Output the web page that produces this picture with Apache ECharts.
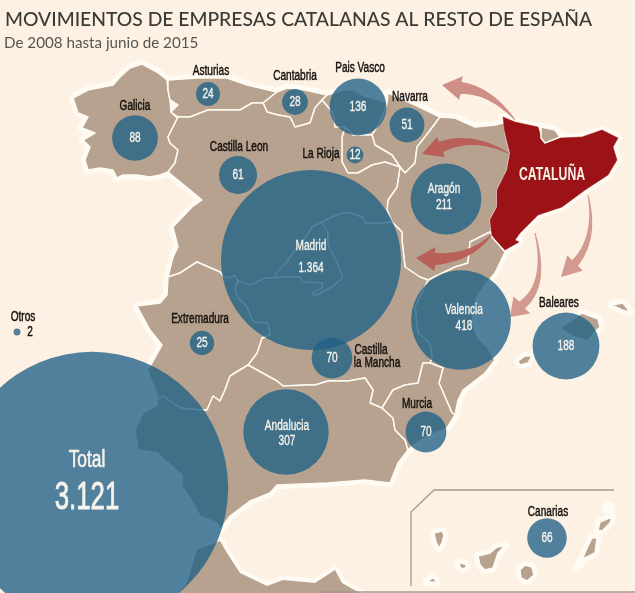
<!DOCTYPE html>
<html>
<head>
<meta charset="utf-8">
<title>Movimientos de empresas catalanas</title>
<style>
  html, body { margin: 0; padding: 0; background: #fdf1e4; }
  #chart { width: 635px; height: 593px; }
</style>
<script src="https://cdn.jsdelivr.net/npm/echarts@6/dist/echarts.min.js"></script>
</head>
<body>
<div id="chart"></div>
<script>
// Datos
const regionNames = ['Asturias', 'Cantabria', 'Pais Vasco', 'Galicia', 'Navarra', 'Castilla Leon', 'La Rioja', 'Aragón', 'Madrid', 'Valencia', 'Baleares', 'Extremadura', 'Castilla la Mancha', 'Andalucia', 'Murcia', 'Canarias', 'Otros', 'Total'];
const regionValues = [24, 28, 136, 88, 51, 61, 12, 211, 1364, 418, 188, 25, 70, 307, 70, 66, 2, 3121];

// Posicion de cada burbuja en unidades del mapa (x, y hacia abajo)
const bubbleCenters = [[208, 94], [295, 102], [358, 107], [135, 138], [407, 125], [238, 175], [355, 155], [446, 199], [311, 260], [461, 320], [566, 346], [202, 343], [332, 358], [286, 432], [426, 432], [547, 538], [17, 332], [92, 488]];
// Rotulos exteriores (negros)
const outsideLabels = ['Asturias', 'Cantabria', 'Pais Vasco', 'Galicia', 'Navarra', 'Castilla Leon', 'La Rioja', 'Baleares', 'Extremadura', 'Murcia', 'Canarias', 'Otros', '2', 'Castilla', 'la Mancha'];
const outsideAnchors = [[211, 71], [295, 76], [360, 68], [135, 106], [410, 97], [239, 147], [321, 154], [559, 303], [200, 319], [417, 404], [548, 512], [23, 317], [30, 332], [371, 350], [377, 363]];
// Rotulos blancos con nombre y cifra dentro de la burbuja
const insideAnchors = {
  'Madrid': [[311, 246], [311, 268]],
  'Aragón': [[444, 189], [444, 205]],
  'Valencia': [[464, 310], [464, 326]],
  'Andalucia': [[287, 426], [287, 441]]
};

// Contornos de las comunidades en unidades del mapa
const regionShapes = {
  'Galicia': [[120,77],[130,68],[142,64],[157,72],[167,80],[168,90],[170,100],[171,112],[176,117],[178,117],[168,137],[170,143],[178,150],[175,163],[168,172],[160,175],[150,177],[137,175],[123,175],[117,178],[113,170],[100,168],[88,170],[85,160],[90,147],[83,140],[95,133],[82,128],[88,117],[78,113],[73,98],[88,90],[113,85]],
  'Asturias': [[168,80],[197,78],[227,78],[247,85],[277,92],[263,103],[252,103],[240,110],[227,110],[208,110],[190,117],[178,117],[171,112],[178,105],[170,100],[168,90]],
  'Cantabria': [[277,92],[287,88],[305,90],[327,95],[322,100],[315,108],[310,123],[295,127],[290,117],[278,115],[267,112],[263,103]],
  'Pais Vasco': [[327,95],[343,90],[353,90],[367,97],[380,100],[387,103],[382,118],[372,135],[353,135],[345,127],[335,127],[333,113],[322,100]],
  'Navarra': [[387,103],[388,93],[415,105],[440,117],[428,133],[417,147],[415,163],[405,173],[400,167],[392,155],[375,145],[372,135],[382,118]],
  'La Rioja': [[342,137],[345,127],[353,135],[372,135],[375,145],[392,155],[400,167],[385,162],[372,165],[358,173],[348,173],[342,162],[342,147]],
  'Aragón': [[440,117],[455,118],[475,127],[495,125],[507,122],[505,133],[510,153],[507,170],[497,190],[497,207],[490,220],[492,237],[490,232],[470,242],[468,263],[455,267],[428,280],[420,277],[405,267],[402,240],[402,232],[392,222],[387,210],[388,200],[397,187],[400,167],[405,173],[415,163],[417,147],[428,133]],
  'Cataluña': [[503,117],[515,122],[538,127],[542,140],[545,143],[560,138],[582,137],[602,130],[618,138],[613,147],[617,160],[608,175],[585,190],[562,207],[538,215],[520,233],[515,240],[519,242],[505,250],[492,237],[490,220],[497,207],[497,190],[507,170],[510,153],[505,133]],
  'Andorra': [[541,127],[555,130],[560,137],[545,143],[541,138]],
  'Valencia': [[470,242],[490,232],[492,237],[505,252],[495,273],[485,285],[477,297],[472,312],[473,325],[478,338],[488,348],[495,360],[485,373],[463,390],[458,400],[455,415],[452,413],[439,383],[443,368],[430,363],[432,357],[430,343],[418,333],[415,307],[428,280],[455,267],[468,263]],
  'Castilla Leon': [[178,117],[190,117],[208,110],[227,110],[240,110],[252,103],[263,103],[267,112],[278,115],[290,117],[295,127],[310,123],[315,108],[322,100],[333,113],[335,127],[345,127],[342,137],[342,147],[342,162],[348,173],[358,173],[372,165],[385,162],[400,167],[397,187],[388,200],[387,210],[392,222],[382,223],[365,223],[362,217],[350,213],[342,213],[332,217],[322,222],[312,227],[305,238],[295,250],[287,262],[277,272],[275,278],[265,278],[257,282],[250,285],[238,281],[235,276],[225,278],[220,272],[197,262],[180,273],[168,277],[173,257],[178,247],[173,227],[192,207],[202,200],[190,190],[168,172],[175,163],[178,150],[170,143],[168,137]],
  'Madrid': [[322,222],[328,233],[328,245],[337,262],[343,278],[330,288],[315,296],[312,293],[322,288],[322,283],[302,282],[300,277],[287,277],[275,278],[277,272],[287,262],[295,250],[305,238],[312,227]],
  'Castilla la Mancha': [[322,222],[332,217],[342,213],[350,213],[362,217],[365,223],[382,223],[392,222],[402,232],[402,240],[405,267],[420,277],[428,280],[415,307],[418,333],[430,343],[432,357],[430,363],[423,363],[418,383],[405,385],[393,390],[382,408],[370,403],[373,390],[365,378],[348,381],[335,381],[328,381],[315,385],[307,385],[283,386],[277,381],[248,365],[257,353],[262,338],[270,335],[268,323],[253,322],[247,307],[238,298],[235,288],[238,281],[250,285],[257,282],[265,278],[275,278],[287,277],[300,277],[302,282],[322,283],[322,288],[312,293],[315,296],[330,288],[343,278],[337,262],[328,245],[328,233]],
  'Extremadura': [[168,277],[180,273],[197,262],[220,272],[225,278],[235,276],[238,281],[235,288],[238,298],[247,307],[253,322],[268,323],[270,335],[262,338],[257,353],[248,365],[230,376],[225,390],[220,401],[213,396],[207,410],[203,410],[180,408],[163,396],[157,400],[157,393],[147,370],[152,363],[162,345],[150,330],[137,306],[160,303],[167,295]],
  'Andalucia': [[248,365],[277,381],[283,386],[307,385],[315,385],[328,381],[348,381],[365,378],[373,390],[370,403],[382,408],[393,418],[395,430],[405,440],[408,450],[398,463],[390,483],[365,480],[327,483],[277,485],[270,493],[250,501],[230,516],[220,530],[217,523],[200,516],[193,503],[182,486],[182,475],[157,453],[138,450],[135,430],[143,413],[157,405],[157,400],[163,396],[180,408],[203,410],[207,410],[213,396],[220,401],[225,390],[230,376]],
  'Murcia': [[382,408],[393,390],[405,385],[418,383],[423,363],[430,363],[443,368],[439,383],[452,413],[455,415],[447,428],[428,436],[412,446],[408,450],[405,440],[395,430],[393,418]],
  'Mallorca': [[560,328],[575,318],[582,313],[590,316],[598,319],[600,327],[594,333],[587,341],[572,336]],
  'Menorca': [[612,305],[623,303],[630,312],[622,310]],
  'Ibiza': [[518,361],[525,356],[532,356],[528,363],[520,365]],
  'La Palma': [[434,533],[442,531],[444,535],[442,543],[439,548],[436,542]],
  'Tenerife': [[478,556],[490,553],[497,547],[505,546],[498,553],[493,568],[485,570],[480,565]],
  'La Gomera': [[459,563],[465,564],[467,567],[463,569],[460,567]],
  'El Hierro': [[427,582],[434,577],[436,583],[432,582]],
  'Gran Canaria': [[520,570],[525,565],[532,567],[534,575],[527,581],[521,578]],
  'Fuerteventura': [[592,538],[597,538],[595,553],[585,558],[577,567],[583,558],[587,548]],
  'Lanzarote': [[600,522],[612,517],[610,523],[602,531],[598,530]],
  'Alegranza': [[607,506],[611,506],[611,510],[607,510]],
  'Marruecos': [[197,550],[220,541],[227,553],[240,573],[267,586],[283,580],[315,583],[335,570],[342,583],[365,596],[175,596],[187,583]]
};

// Flechas: inicio, control, final del trazo, punta, media anchura de la punta
const arrowPaths = [
  [515, 120, 490, 90, 461, 88, 442, 85, 12],
  [508, 153, 472, 134, 441, 147, 422, 154, 11],
  [492, 234, 472, 258, 435, 259, 416, 258, 12],
  [535, 233, 548, 285, 522, 305, 510, 317, 12],
  [588, 195, 597, 238, 575, 263, 561, 277, 11]
];
const arrowColors = ['#cf8f86', '#b9605a', '#b9605a', '#d29a90', '#d29a90'];
const arrowWidths = [12, 11, 12, 9, 8];

// Marco de Canarias y linea inferior
const canaryFrame = [[411, 586], [411, 512], [434, 490], [614, 490]];
const bottomRule = [[320, 592], [635, 592]];

const landColor = '#b6a28f';
const haloColor = '#fffaf2';
const bubbleColor = 'rgba(31,96,134,0.78)';
const labelFont = '"Liberation Sans", sans-serif';
const whiteText = '#f6f3ec';
const blackText = '#15110d';

// El mapa usa y hacia abajo; geoJSON la quiere hacia arriba
const toMap = p => [p[0], -p[1]];

function buildGeoJson() {
  return {
    type: 'FeatureCollection',
    features: Object.keys(regionShapes).map(name => {
      const ring = regionShapes[name].map(toMap);
      ring.push(ring[0]);
      return {
        type: 'Feature',
        properties: { name: name },
        geometry: { type: 'Polygon', coordinates: [ring] }
      };
    })
  };
}

function formatThousands(v) {
  return String(v).replace(/\B(?=(\d{3})+$)/g, '.');
}

// Lista de rotulos; no hay fuente estrecha instalada, asi que se comprime con scaleX
function buildLabels() {
  const items = [];
  const add = (text, pos, size, scaleX, color, weight, stroke) => items.push({ text, pos, size, scaleX, color, weight, stroke });
  outsideLabels.forEach((t, i) => add(t, outsideAnchors[i], 14, 0.72, blackText, 'normal', 0.45));
  regionNames.forEach((name, i) => {
    const v = formatThousands(regionValues[i]);
    if (name === 'Otros') return;
    if (name === 'Total') {
      add('Total', [87, 461], 23.5, 0.74, whiteText, 'normal', 0.6);
      add(v, [87, 498], 39, 0.66, whiteText, 'normal', 0.9);
    } else if (insideAnchors[name]) {
      add(name, insideAnchors[name][0], 14, 0.72, whiteText, 'normal', 0.35);
      add(v, insideAnchors[name][1], 14, 0.72, whiteText, 'normal', 0.35);
    } else {
      add(v, bubbleCenters[i], 14, 0.72, whiteText, 'normal', 0.35);
    }
  });
  add('CATALUÑA', [552, 175], 18, 0.68, '#f8efe6', 'bold', 0);
  return items;
}

function renderLabel(items) {
  return (params, api) => {
    const it = items[params.dataIndex];
    const p = api.coord([api.value(0), api.value(1)]);
    return {
      type: 'text',
      x: p[0],
      y: p[1],
      scaleX: it.scaleX,
      style: {
        text: it.text,
        fill: it.color,
        stroke: it.stroke ? it.color : null,
        lineWidth: it.stroke,
        fontFamily: labelFont,
        fontSize: it.size,
        fontWeight: it.weight,
        textAlign: 'center',
        textVerticalAlign: 'middle'
      }
    };
  };
}

// Flecha afilada: va engordando desde el inicio hasta la punta
function renderArrow(params, api) {
  const pts = [0, 2, 4, 6].map(i => api.coord([api.value(i), api.value(i + 1)]));
  const headHalf = api.value(8);
  const shaftHalf = arrowWidths[params.dataIndex] / 2;
  const left = [], right = [];
  const steps = 24;
  for (let s = 0; s <= steps; s++) {
    const t = s / steps, u = 1 - t;
    const x = u * u * pts[0][0] + 2 * u * t * pts[1][0] + t * t * pts[2][0];
    const y = u * u * pts[0][1] + 2 * u * t * pts[1][1] + t * t * pts[2][1];
    const dx = 2 * u * (pts[1][0] - pts[0][0]) + 2 * t * (pts[2][0] - pts[1][0]);
    const dy = 2 * u * (pts[1][1] - pts[0][1]) + 2 * t * (pts[2][1] - pts[1][1]);
    const len = Math.hypot(dx, dy) || 1;
    const w = 0.5 + (shaftHalf - 0.5) * t;
    left.push([x - dy / len * w, y + dx / len * w]);
    right.push([x + dy / len * w, y - dx / len * w]);
  }
  const ax = pts[3][0] - pts[2][0], ay = pts[3][1] - pts[2][1];
  const alen = Math.hypot(ax, ay) || 1;
  const head = [
    [pts[2][0] - ay / alen * headHalf, pts[2][1] + ax / alen * headHalf],
    pts[3],
    [pts[2][0] + ay / alen * headHalf, pts[2][1] - ax / alen * headHalf]
  ];
  return {
    type: 'polygon',
    shape: { points: left.concat(head, right.reverse()) },
    style: { fill: arrowColors[params.dataIndex] }
  };
}

function toArrowData(a) {
  const out = a.slice();
  for (let i = 1; i < 8; i += 2) out[i] = -out[i];
  return out;
}

function initChart() {
  echarts.registerMap('espana', buildGeoJson());
  const chart = echarts.init(document.getElementById('chart'));
  const labels = buildLabels();

  const baseGeo = {
    map: 'espana',
    roam: false,
    silent: true,
    aspectScale: 1,
    left: 0,
    top: 0,
    width: 635,
    height: 593,
    boundingCoords: [[0, 0], [635, -593]],
    label: { show: false }
  };

  chart.setOption({
    animation: false,
    backgroundColor: '#fdf1e4',
    title: [
      { text: 'MOVIMIENTOS DE EMPRESAS CATALANAS AL RESTO DE ESPAÑA', left: 5, top: 10, padding: 0,
        textStyle: { fontFamily: 'Lato', fontSize: 19.3, fontWeight: 500, color: '#3b3b36' } },
      { text: 'De 2008 hasta junio de 2015', left: 4, top: 36, padding: 0,
        textStyle: { fontFamily: 'Lato', fontSize: 15.2, fontWeight: 400, color: '#55554f' } }
    ],
    geo: [
      // capa inferior: solo aporta el halo blanco de la costa
      Object.assign({}, baseGeo, { z: 1, itemStyle: { areaColor: haloColor, borderColor: haloColor, borderWidth: 8.5, borderJoin: 'round' } }),
      Object.assign({}, baseGeo, {
        z: 2,
        itemStyle: { areaColor: landColor, borderColor: haloColor, borderWidth: 1.5, borderJoin: 'round' },
        regions: [
          { name: 'Cataluña', itemStyle: { areaColor: '#9b1316', borderColor: '#9b1316', borderWidth: 0.5 } },
          { name: 'Alegranza', itemStyle: { areaColor: haloColor } },
          { name: 'Marruecos', itemStyle: { borderWidth: 0 } }
        ]
      })
    ],
    series: [
      {
        type: 'lines',
        coordinateSystem: 'geo',
        geoIndex: 1,
        polyline: true,
        silent: true,
        z: 3,
        lineStyle: { color: '#a8998a', width: 1.3, opacity: 1 },
        data: [{ coords: canaryFrame.map(toMap) }, { coords: bottomRule.map(toMap) }]
      },
      {
        type: 'custom',
        coordinateSystem: 'geo',
        geoIndex: 1,
        silent: true,
        z: 4,
        renderItem: renderArrow,
        data: arrowPaths.map(toArrowData)
      },
      {
        name: 'Empresas',
        type: 'scatter',
        coordinateSystem: 'geo',
        geoIndex: 1,
        silent: true,
        z: 5,
        // el area es proporcional al numero de empresas
        symbolSize: v => 4.874 * Math.sqrt(v[2]),
        itemStyle: { color: bubbleColor, opacity: 1 },
        data: regionNames.map((name, i) => ({
          name: name,
          value: toMap(bubbleCenters[i]).concat(regionValues[i])
        }))
      },
      {
        name: 'Rotulos',
        type: 'custom',
        coordinateSystem: 'geo',
        geoIndex: 1,
        silent: true,
        z: 6,
        renderItem: renderLabel(labels),
        data: labels.map(it => toMap(it.pos))
      }
    ]
  });
}

initChart();
</script>
</body>
</html>
